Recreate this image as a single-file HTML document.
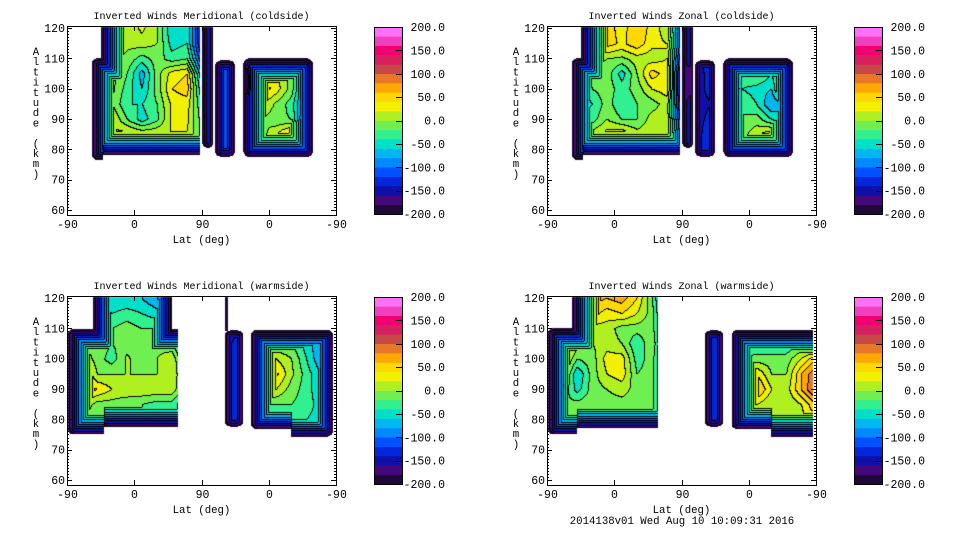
<!DOCTYPE html>
<html><head><meta charset="utf-8">
<style>
html,body{margin:0;padding:0;background:#fff;}
#wrap{position:relative;width:960px;height:540px;overflow:hidden;}
canvas,svg{position:absolute;left:0;top:0;}
text{font-family:"Liberation Mono",monospace;font-size:10px;fill:#000;}
text.tk{font-size:11.5px;}
text.ax{font-size:10.7px;}
</style></head>
<body>
<div id="wrap">
<canvas id="cv" width="960" height="540"></canvas>
<svg id="sv" width="960" height="540"></svg>
</div>
<script>
// ---- data ----
const lonU = [0,20,40,60,80,100,120,140,160,180,200,220,240,260,280,300,320,340,360];
const altRows = [120,115,110,105,100,95,90,85,80,75];
const tickLabelsX = ["-90","0","90","0","-90"];
const tickLabelsY = ["60","70","80","90","100","110","120"];
const cbarLabels = ["200.0","150.0","100.0","50.0","0.0","-50.0","-100.0","-150.0","-200.0"];
const titles = ["Inverted Winds Meridional (coldside)","Inverted Winds Zonal (coldside)","Inverted Winds Meridional (warmside)","Inverted Winds Zonal (warmside)"];
const B75 = [-120,-120,-120,-120,-120,-120,-120,-120,-120,-120,-120,-120,-120,-120,-120,-120,-120,-120,-120];
const valsMerCold = [
[-100,-100,-200,15,5,25,0,-60,-40,-150,-120,-110,-100,-80,-80,-80,-80,-80,-80],
[-100,-100,-180,25,5,10,0,-50,-40,-150,-120,-110,-100,-80,-80,-80,-80,-80,-80],
[-100,-100,-100,0,-5,-30,-10,-30,-20,-120,-120,-110,-150,-40,-30,-40,-100,-80,-80],
[-100,-100,30,10,-20,-70,-10,30,40,-80,-120,-100,-200,40,20,-10,-90,-80,-80],
[-100,-100,50,5,-30,-60,-10,40,50,-60,-120,-100,-200,55,30,-10,-100,-80,-80],
[-100,-100,40,0,-40,-40,-20,25,30,-40,-120,-100,-150,25,-5,-30,-110,-80,-80],
[-100,-100,30,20,-20,-50,-25,25,25,-30,-120,-100,-120,0,-15,-20,-130,-80,-80],
[-100,-100,10,25,30,20,20,20,20,-30,-120,-100,-120,-10,20,60,-60,-80,-80],
[-100,-100,10,20,20,20,20,20,20,-30,-120,-100,-120,-10,10,40,-60,-80,-80],
B75];
const valsZonCold = [
[-100,-100,-200,30,50,30,60,30,10,-120,-120,-110,-120,-80,-80,-80,-80,-80,-80],
[-100,-100,-180,30,50,35,55,25,20,-120,-120,-110,-120,-80,-80,-80,-80,-80,-80],
[-100,-100,-120,10,0,-5,10,10,20,-150,-150,-110,-150,-30,-20,-40,-20,-80,-80],
[-100,-100,-40,-10,-10,-50,0,50,30,-180,-160,-120,-150,-20,-10,-40,10,-80,-80],
[-100,-100,-60,-20,-10,-30,-10,20,30,-180,-150,-130,-150,-40,-50,-60,40,-80,-80],
[-100,-100,-70,-40,-10,-40,-20,-10,10,-160,-150,-140,-150,-20,-40,-80,-60,-80,-80],
[-100,-100,10,-30,0,-20,-20,10,10,-140,-150,-130,-130,-20,-10,-40,-60,-80,-80],
[-100,-100,40,10,30,40,10,15,15,-120,-150,-120,-130,-10,15,40,-20,-80,-80],
[-100,-100,30,10,20,20,10,10,10,-120,-150,-120,-130,-10,10,30,-30,-80,-80],
B75];
const valsMerWarm = [
[-80,-80,-40,-60,-60,-60,-80,-100,-100,-100,-100,-150,-120,-100,-100,-100,-100,-100,-100],
[-80,-80,-30,-40,-30,-40,-50,-80,-100,-100,-100,-150,-120,-60,-60,-60,-80,-100,-100],
[-80,-60,-20,-20,-10,-20,-20,-50,-80,-100,-100,-150,-120,-60,-40,-50,-80,-100,-100],
[-80,-10,-10,-20,-10,-20,-10,-20,-80,-100,-100,-140,-120,-30,-20,-20,-50,-80,-100],
[-150,20,-10,-30,5,-20,0,20,-60,-100,-100,-140,-120,30,20,0,-40,-80,-100],
[-150,50,0,0,0,0,0,20,-40,-100,-100,-140,-120,50,45,5,-30,-60,-100],
[-150,60,40,20,20,15,15,15,-40,-100,-100,-140,-120,20,20,-10,-30,-60,-100],
[-150,20,-10,-10,-20,-20,-30,-30,-60,-100,-100,-140,-120,-20,-20,-20,-30,-50,-100],
[-100,0,-20,-20,-20,-20,-30,-30,-60,-100,-100,-140,-120,-30,-30,-30,-40,-50,-100],
B75];
const valsZonWarm = [
[-100,-100,-150,70,60,70,40,-20,-100,-100,-100,-140,-120,-100,-100,-100,-100,-100,-100],
[-100,-100,-120,50,30,40,20,-10,-100,-100,-100,-140,-120,-100,-100,-100,-100,-100,-100],
[-100,-60,0,10,10,-10,-10,-10,-100,-100,-100,-140,-120,-70,-70,-70,-70,-80,-100],
[-100,60,10,0,10,0,-40,0,-100,-100,-100,-140,-120,-40,-40,-40,-40,-20,-40],
[-100,40,-20,-10,30,30,-30,-10,-100,-100,-100,-140,-120,-20,-10,-10,-10,20,60],
[-100,20,-60,-10,20,30,-20,-10,-100,-100,-100,-140,-120,30,40,0,0,60,100],
[-100,0,-50,-10,0,10,-10,-10,-100,-100,-100,-140,-120,50,70,20,10,60,110],
[-100,-20,-10,-10,-10,-10,-10,-10,-100,-100,-100,-140,-120,20,20,0,0,20,60],
[-100,-20,-10,-10,-10,-10,-10,-10,-100,-100,-100,-140,-120,10,10,0,0,10,40],
B75];
// data-coverage regions [u0,u1,alt0,alt1,edgeL,edgeR,edgeB,edgeT]
const regionsCold = [[33,48,76.5,110,1,0,1,1],[33,178,78,110,1,0,1,1],[46,178,78,125,1,0,1,0],[181,196,80.4,125,1,1,1,0],[198,225,77.6,109.3,1,1,1,1],[236,329,77.5,110,1,1,1,1]];
const regionsMerWarm = [[1,50,75,109.8,1,0,1,1],[1,149,77.6,109.8,1,0,1,1],[35,140,77.6,125,1,1,1,0],[211,215,109,125,1,1,0,0],[211,236,77.6,109.3,1,1,1,1],[246,356,76.7,109.5,1,1,1,1],[300,356,74.3,109.5,0,1,1,1]];
const regionsZonWarm = [[1,40,75,110,1,0,1,1],[1,149,77,110,1,0,1,1],[33,149,77,125,1,0,1,0],[211,236,77.6,109.3,1,1,1,1],[247,356,76.7,109.5,1,0,1,1],[300,356,74.3,109.5,0,0,1,1]];

const colors = ["#200838","#44087a","#1010a8","#0028d8","#0050ff","#0088ff","#00b8f0","#00e0c8","#30f090","#70f050","#b0f020","#f0f000","#ffd800","#ffa800","#e87828","#c84848","#d82060","#f00070","#f040c0","#ff70f8"];

const panels = [
 {ox:0,oy:0,vals:valsMerCold,reg:regionsCold,t:0},
 {ox:480,oy:0,vals:valsZonCold,reg:regionsCold,t:1},
 {ox:0,oy:270,vals:valsMerWarm,reg:regionsMerWarm,t:2},
 {ox:480,oy:270,vals:valsZonWarm,reg:regionsZonWarm,t:3}
];
const X0=67,X1=336,Y0=26,Y1=215,Y120=28,PXKM=3.033,PXU=269/360;
const RND=6, RATE=9;
function xU(u){return X0+u*PXU;}
function yA(a){return Y120+(120-a)*PXKM;}

function interp(vals,u,a){
  let fi=u/20; fi=Math.max(0,Math.min(lonU.length-1.001,fi));
  let fj=(120-a)/5; fj=Math.max(0,Math.min(altRows.length-1.001,fj));
  const i=Math.floor(fi),j=Math.floor(fj),di=fi-i,dj=fj-j;
  const v00=vals[j][i],v10=vals[j][i+1],v01=vals[j+1][i],v11=vals[j+1][i+1];
  return (v00*(1-di)+v10*di)*(1-dj)+(v01*(1-di)+v11*di)*dj;
}

const ctx=document.getElementById('cv').getContext('2d');
panels.forEach(p=>{
  const W=X1-X0-1,H=Y1-Y0-1;
  const lev=new Int16Array(W*H).fill(-1);
  for(let yy=0;yy<H;yy++){
    const py=Y0+1+yy+0.5; const a=120-(py-Y120)/PXKM;
    for(let xx=0;xx<W;xx++){
      const px=X0+1+xx+0.5; const u=(px-X0)/PXU;
      let d=-1e9; let inside=false;
      for(const r of p.reg){
        if(u>=r[0]&&u<=r[1]&&a>=r[2]&&a<=r[3]){
          const dl=r[4]?(u-r[0])*PXU:1e9, dr=r[5]?(r[1]-u)*PXU:1e9;
          const db=r[6]?(a-r[2])*PXKM:1e9, dt=r[7]?(r[3]-a)*PXKM:1e9;
          const dx=Math.min(dl,dr), dy=Math.min(db,dt);
          let m=Math.min(dx,dy);
          if(dx<RND&&dy<RND){m=RND-Math.hypot(RND-dx,RND-dy);}
          if(m>=0)inside=true;
          d=Math.max(d,m);
        }
      }
      if(!inside)continue;
      let v=Math.min(interp(p.vals,u,a),-195+RATE*d);
      let l=Math.floor((v+200)/20); l=Math.max(0,Math.min(19,l));
      lev[yy*W+xx]=l;
    }
  }
  const img=ctx.createImageData(W,H);
  const rgb=colors.map(c=>[parseInt(c.substr(1,2),16),parseInt(c.substr(3,2),16),parseInt(c.substr(5,2),16)]);
  for(let k=0;k<W*H;k++){
    const l=lev[k]; const o=k*4;
    if(l<0){img.data[o]=255;img.data[o+1]=255;img.data[o+2]=255;img.data[o+3]=255;continue;}
    const xx=k%W,yy=(k-xx)/W;
    let line=false;
    if(xx>0&&lev[k-1]>=0&&lev[k-1]!==l)line=true;
    if(yy>0&&lev[k-W]>=0&&lev[k-W]!==l)line=true;
    const c=line?[0,0,0]:rgb[l];
    img.data[o]=c[0];img.data[o+1]=c[1];img.data[o+2]=c[2];img.data[o+3]=255;
  }
  ctx.putImageData(img,p.ox+X0+1,p.oy+Y0+1);
});

// ---- axes ----
const NS="http://www.w3.org/2000/svg";
const sv=document.getElementById('sv');
function el(tag,at,parent){const e=document.createElementNS(NS,tag);for(const k in at)e.setAttribute(k,at[k]);(parent||sv).appendChild(e);return e;}
panels.forEach((p,pi)=>{
  const g=el('g',{transform:`translate(${p.ox},${p.oy})`});
  
  
  const fr=el('rect',{x:X0+0.5,y:Y0+0.5,width:X1-X0,height:Y1-Y0,fill:'none',stroke:'#000','stroke-width':1},g);
  
  
  const t=el('text',{x:(X0+X1)/2,y:19,'text-anchor':'middle'},g); t.textContent=titles[p.t];
  
  
  let path='';
  tickLabelsX.forEach((lb,i)=>{
    const x=Math.round(xU(i*90))+0.5;
    path+=`M${x} ${Y1}v-5M${x} ${Y0}v5`;
    const tx=el('text',{x:x,y:Y1+13,'text-anchor':'middle','class':'tk'},g); tx.textContent=lb;
    
    
  });
  for(let a=60;a<=120;a++){
    const y=Math.round(yA(a))+0.5; const L=(a%10===0)?5:2;
    path+=`M${X0} ${y}h${L}M${X1} ${y}h${-L}`;
  }
  tickLabelsY.forEach((lb,i)=>{
    const ty=el('text',{x:X0-2,y:yA(60+i*10)+4,'text-anchor':'end','class':'tk'},g); ty.textContent=lb;
    
    
  });
  el('path',{d:path,stroke:'#000','stroke-width':1,fill:'none'},g);
  const xt=el('text',{x:(X0+X1)/2,y:Y1+28,'text-anchor':'middle','class':'ax'},g); xt.textContent='Lat (deg)';
  
  
  const yt=el('text',{x:36,y:0,'text-anchor':'middle','class':'ax'},g);
  
  
  'Altitude (km)'.split('').forEach((ch,i)=>{const s=el('tspan',{x:36,y:55+i*10.2},yt);s.textContent=ch===' '?'\u00a0':ch;});
  // colorbar
  const cb=el('g',{},g);
  
  
  const CX=374,CW=28,CT=27,CB=214,bh=(CB-CT)/colors.length;
  colors.forEach((c,i)=>{el('rect',{x:CX,y:CB-(i+1)*bh,width:CW,height:bh+0.3,fill:c},cb);});
  el('rect',{x:CX+0.5,y:CT+0.5,width:CW,height:CB-CT,fill:'none',stroke:'#000'},cb);
  cbarLabels.forEach((lb,i)=>{
    const y=CT+i*(CB-CT)/8;
    el('path',{d:`M${CX+CW} ${Math.round(y)+0.5}h-6`,stroke:'#000'},cb);
    const tl=el('text',{x:445,y:y+4,'text-anchor':'end','class':'tk'},cb); tl.textContent=lb;
    
    
  });
});
const ft=el('text',{x:682,y:524,'text-anchor':'middle','class':'ax'}); ft.textContent='2014138v01 Wed Aug 10 10:09:31 2016';


</script>
</body></html>
